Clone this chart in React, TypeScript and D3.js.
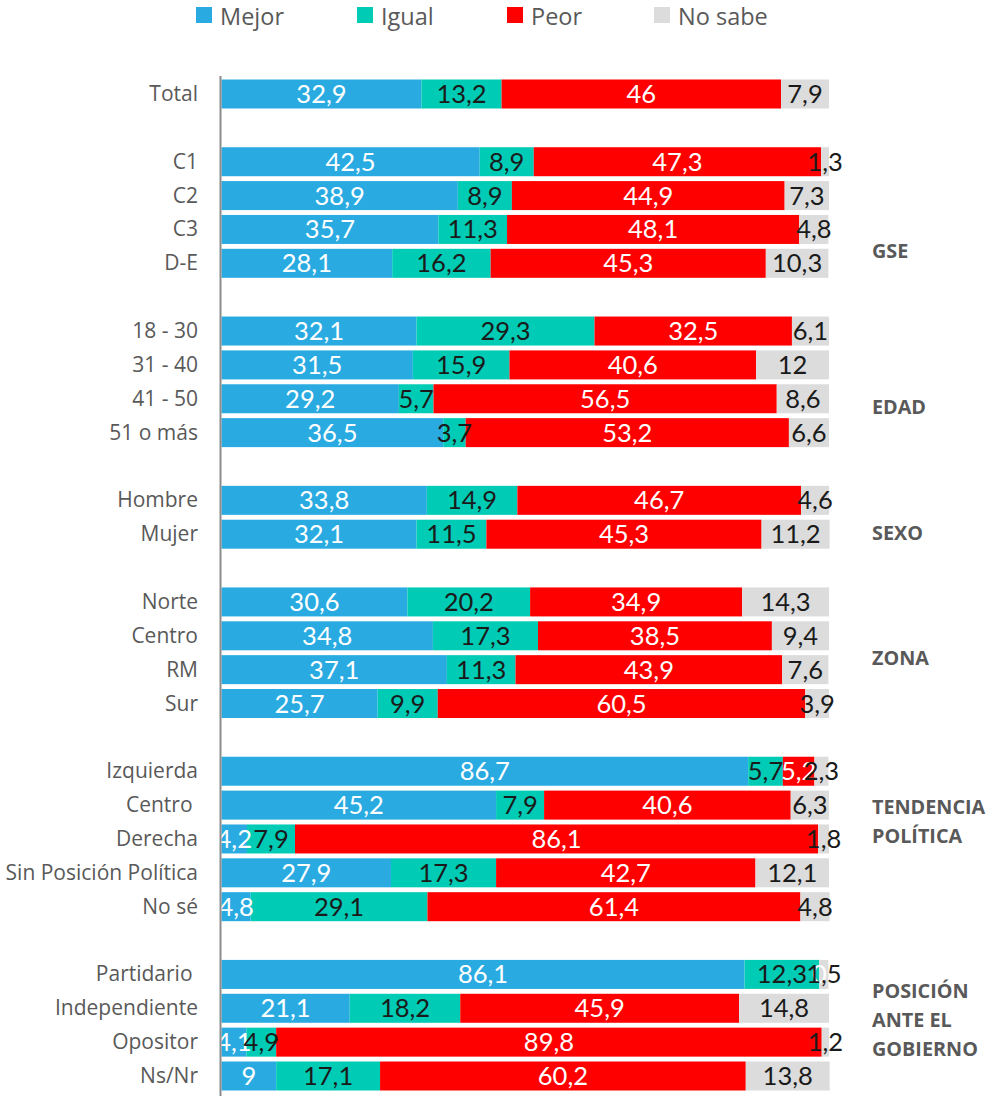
import React from "react";
import * as d3 from "d3";

const categories: string[] = [
  "Total", "",
  "C1", "C2", "C3", "D-E", "",
  "18 - 30", "31 - 40", "41 - 50", "51 o más", "",
  "Hombre", "Mujer", "",
  "Norte", "Centro", "RM", "Sur", "",
  "Izquierda", "Centro ", "Derecha", "Sin Posición Política", "No sé", "",
  "Partidario ", "Independiente", "Opositor", "Ns/Nr",
];

// null for blank spacer rows
const mejor: (number | null)[] = [32.9, null, 42.5, 38.9, 35.7, 28.1, null, 32.1, 31.5, 29.2, 36.5, null, 33.8, 32.1, null, 30.6, 34.8, 37.1, 25.7, null, 86.7, 45.2, 4.2, 27.9, 4.8, null, 86.1, 21.1, 4.1, 9];
const igual: (number | null)[] = [13.2, null, 8.9, 8.9, 11.3, 16.2, null, 29.3, 15.9, 5.7, 3.7, null, 14.9, 11.5, null, 20.2, 17.3, 11.3, 9.9, null, 5.7, 7.9, 7.9, 17.3, 29.1, null, 12.3, 18.2, 4.9, 17.1];
const peor: (number | null)[] = [46, null, 47.3, 44.9, 48.1, 45.3, null, 32.5, 40.6, 56.5, 53.2, null, 46.7, 45.3, null, 34.9, 38.5, 43.9, 60.5, null, 5.2, 40.6, 86.1, 42.7, 61.4, null, 0, 45.9, 89.8, 60.2];
const noSabe: (number | null)[] = [7.9, null, 1.3, 7.3, 4.8, 10.3, null, 6.1, 12, 8.6, 6.6, null, 4.6, 11.2, null, 14.3, 9.4, 7.6, 3.9, null, 2.3, 6.3, 1.8, 12.1, 4.8, null, 1.5, 14.8, 1.2, 13.8];

const seriesNames = ["Mejor", "Igual", "Peor", "No sabe"];
const seriesColors = ["#29abe2", "#00cbb5", "#ff0000", "#dcdcdc"];
const labelColors = ["#ffffff", "#1a1a1a", "#ffffff", "#1a1a1a"];

const groupLabels: { lines: string[]; row: number; dy: number }[] = [
  { lines: ["GSE"], row: 5, dy: -12 },
  { lines: ["EDAD"], row: 9, dy: 8 },
  { lines: ["SEXO"], row: 13, dy: -1 },
  { lines: ["ZONA"], row: 17, dy: -12 },
  { lines: ["TENDENCIA", "POLÍTICA"], row: 22, dy: -17 },
  { lines: ["POSICIÓN", "ANTE EL", "GOBIERNO"], row: 28, dy: -22 },
];

const fmt = (v: number) => String(v).replace(".", ",");

export default function App() {
  const W = 986, H = 1096;
  const series = [mejor, igual, peor, noSabe];
  const idx = categories.map((_, i) => i);
  const step = (1076 - 94) / 29;
  const p = 1 - 29 / step;
  const y = d3.scaleBand<number>().domain(idx).range([94 - step / 2, 1076 + step / 2]).paddingInner(p).paddingOuter(p / 2);
  const x = d3.scaleLinear().domain([0, 100]).range([221.5, 829]);

  const rows = idx.filter((i) => mejor[i] !== null).map((i) => {
    const vals = series.map((s) => s[i] as number);
    const cum = d3.cumsum(vals);
    return { i, segs: vals.map((v, k) => ({ v, k, x0: cum[k] - v, x1: cum[k] })) };
  });

  const legendX = [196, 357, 507, 654];

  return (
    <svg width={W} height={H} style={{ position: "absolute", left: 0, top: 0, background: "#fff" }}>
      {/* legend */}
      {seriesNames.map((n, k) => (
        <g key={n}>
          <rect x={legendX[k]} y={7} width={16} height={16} fill={seriesColors[k]} />
          <text x={legendX[k] + 24} y={25} fontFamily="Open Sans" fontSize={23.5} fill="#595959">{n}</text>
        </g>
      ))}
      {/* bars */}
      {rows.map((r) => (
        <g key={r.i}>
          {r.segs.map((s) => (
            <rect key={s.k} x={x(s.x0)} y={y(r.i)} width={Math.max(0, x(s.x1) - x(s.x0))} height={y.bandwidth()} fill={seriesColors[s.k]} />
          ))}
        </g>
      ))}
      {rows.map((r) => (
        <g key={"l" + r.i}>
          {r.segs.map((s) => (
            <text key={s.k} x={(x(s.x0) + x(s.x1)) / 2} y={(y(r.i) as number) + y.bandwidth() / 2 + 9} textAnchor="middle" fontFamily="Lato" fontSize={25.5} fill={labelColors[s.k]}>{fmt(s.v)}</text>
          ))}
          <text x={198} y={(y(r.i) as number) + y.bandwidth() / 2 + 7} textAnchor="end" fontFamily="Open Sans" fontSize={21} fill="#595959" style={{ whiteSpace: "pre" }}>{categories[r.i]}</text>
        </g>
      ))}
      {/* axis */}
      <line x1={220.5} x2={220.5} y1={76} y2={H} stroke="#8c8c8c" strokeWidth={2} />
      {/* group labels */}
      {groupLabels.map((g) => {
        const cy = (y(g.row) as number) + y.bandwidth() / 2 + g.dy;
        const lh = 29;
        return g.lines.map((ln, j) => (
          <text key={g.row + "-" + j} x={872} y={cy - ((g.lines.length - 1) * lh) / 2 + j * lh + 7} fontFamily="Open Sans" fontWeight="bold" fontSize={19.8} fill="#595959">{ln}</text>
        ));
      })}
    </svg>
  );
}
